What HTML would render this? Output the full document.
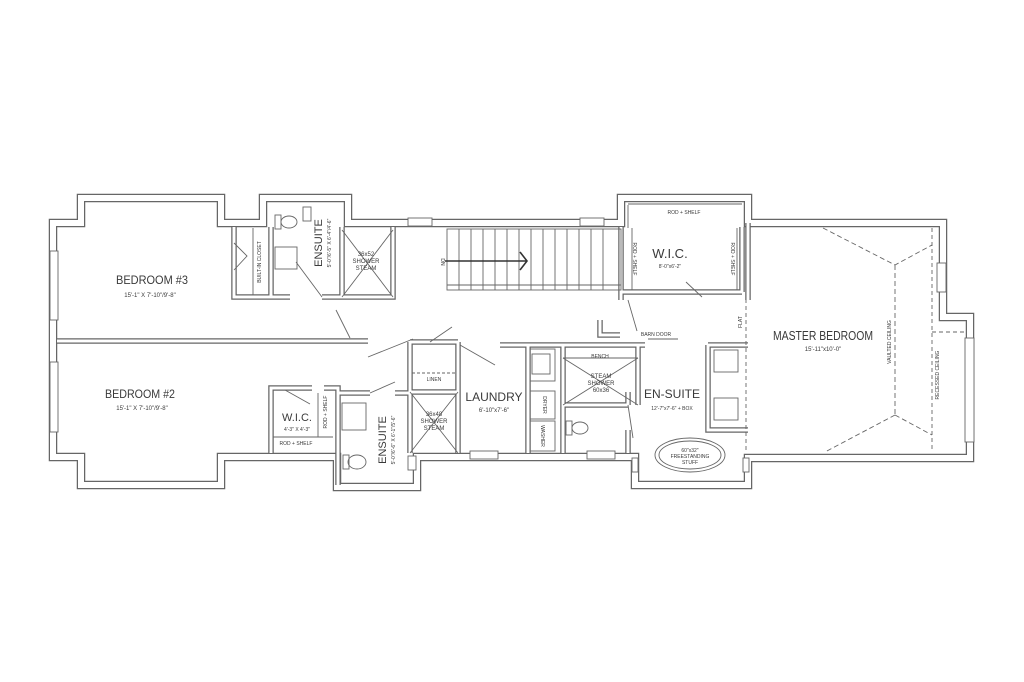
<!DOCTYPE html>
<html><head><meta charset="utf-8"><style>
html,body{margin:0;padding:0;background:#fff;}
svg{display:block}
text{font-family:"Liberation Sans Narrow","Liberation Sans",sans-serif;fill:#3a3a3a}
</style></head><body>
<svg width="1024" height="682" viewBox="0 0 1024 682" xmlns="http://www.w3.org/2000/svg">
<g fill="none" stroke-linejoin="miter">
<g id="ext">
<polygon points="53,223 81,223 81,198 221,198 221,223 263,223 263,198 348,198 348,223 621,223 621,198 748,198 748,223 943,223 943,317 970,317 970,458 748,458 748,485 635,485 635,457 417,457 417,487 337,487 337,457 221,457 221,485 81,485 81,457 53,457" stroke="#666" stroke-width="8.5"/>
<polygon points="53,223 81,223 81,198 221,198 221,223 263,223 263,198 348,198 348,223 621,223 621,198 748,198 748,223 943,223 943,317 970,317 970,458 748,458 748,485 635,485 635,457 417,457 417,487 337,487 337,457 221,457 221,485 81,485 81,457 53,457" stroke="#fff" stroke-width="6"/>
</g>
<g stroke="#666" stroke-width="5.5">
<path d="M57,341 H368"/>
<path d="M234,227 V297 H290 M322,297 H393 V227 M271,227 V297 M342,227 V297"/>
<path d="M621,227 V300 M621,292 H742 M742,227 V292"/>
<path d="M410,342 V453 M458,342 V453 M410,392 H458 M410,342 H458"/>
<path d="M271,453 V388 H312 M324,388 H338 V485 M338,393 H370 M395,393 H410"/>
<path d="M500,345 H645 M528,345 V453 M563,345 V453 M638,345 V405 M563,405 H628 M628,405 V392 M628,430 V453"/>
<path d="M708,345 V430 H748 M708,345 H748 M748,223 V300"/>
<path d="M600,320 V335 H620"/>
</g>
<g stroke="#fff" stroke-width="3">
<path d="M57,341 H368"/>
<path d="M234,227 V297 H290 M322,297 H393 V227 M271,227 V297 M342,227 V297"/>
<path d="M621,227 V300 M621,292 H742 M742,227 V292"/>
<path d="M410,342 V453 M458,342 V453 M410,392 H458 M410,342 H458"/>
<path d="M271,453 V388 H312 M324,388 H338 V485 M338,393 H370 M395,393 H410"/>
<path d="M500,345 H645 M528,345 V453 M563,345 V453 M638,345 V405 M563,405 H628 M628,405 V392 M628,430 V453"/>
<path d="M708,345 V430 H748 M708,345 H748 M748,223 V300"/>
<path d="M600,320 V335 H620"/>
</g>
<g stroke="#666" stroke-width="0.9">
<rect x="447" y="229" width="174" height="61"/>
<path d="M447,285 H621 M459,229V290 M471,229V290 M483,229V290 M495,229V290 M507,229V290 M519,229V290 M531,229V290 M543,229V290 M555,229V290 M567,229V290 M579,229V290 M591,229V290 M603,229V290"/>
<path d="M445,261 H527 M520,252 L527,261 L520,270" stroke-width="1.6" stroke="#333"/>
<path d="M342,230 L393,297 M393,230 L342,297"/>
<path d="M410,392 L458,453 M458,392 L410,453"/>
<path d="M563,358 L638,405 M638,358 L563,405 M563,358 H638"/>
<path d="M412,373 H456" stroke-dasharray="3,2"/>
<path d="M253,228 V295 M628,204 H742 M632,228 V290 M737,228 V290 M628,205 V228 M273,437 H333 M318,393 V437" />
<rect x="275" y="247" width="22" height="22"/><rect x="342" y="403" width="24" height="27"/>
<rect x="530" y="349" width="25" height="32"/><rect x="532" y="354" width="18" height="20"/>
<rect x="530" y="391" width="25" height="28"/><rect x="530" y="421" width="25" height="30"/>
<rect x="714" y="350" width="24" height="22"/><rect x="714" y="398" width="24" height="22"/>
<ellipse cx="289" cy="222" rx="8" ry="6"/><rect x="275" y="215" width="6" height="14"/>
<ellipse cx="357" cy="462" rx="9" ry="7"/><rect x="343" y="455" width="6" height="14"/>
<ellipse cx="580" cy="428" rx="8" ry="6"/><rect x="566" y="421" width="6" height="14"/>
<ellipse cx="690" cy="455" rx="35" ry="17"/><ellipse cx="690" cy="455" rx="31" ry="14"/>
<path d="M234,243 L247,256 L234,270 M296,262 L322,297 M336,310 L350,338 M368,357 L413,339 M430,342 L452,327 M460,345 L495,365 M628,300 L637,331 M686,282 L702,297 M628,405 L633,438 M648,339 H678 M285,390 L310,404 M370,393 L395,382"/>
<path d="M823,228 L895,265 L932,245 M895,265 V415 M895,415 L825,452 M895,415 L932,435" stroke-dasharray="5,3"/>
<path d="M932,228 V452 M932,332 H966 M746,292 V453" stroke-dasharray="4,3"/>
<rect x="50" y="251" width="8" height="69" fill="#fff"/><rect x="50" y="362" width="8" height="70" fill="#fff"/>
<rect x="408" y="218" width="24" height="8" fill="#fff"/><rect x="580" y="218" width="24" height="8" fill="#fff"/>
<rect x="303" y="207" width="8" height="14" fill="#fff"/><rect x="408" y="456" width="8" height="14" fill="#fff"/>
<rect x="937" y="263" width="9" height="29" fill="#fff"/><rect x="965" y="338" width="9" height="104" fill="#fff"/>
<rect x="470" y="451" width="28" height="8" fill="#fff"/><rect x="587" y="451" width="28" height="8" fill="#fff"/>
<rect x="632" y="458" width="6" height="14" fill="#fff"/><rect x="743" y="458" width="6" height="14" fill="#fff"/>
</g>
</g>
<g text-anchor="middle">
<text x="152" y="284" font-size="12" textLength="72" lengthAdjust="spacingAndGlyphs">BEDROOM #3</text>
<text x="150" y="297" font-size="6">15'-1" X 7'-10"/9'-8"</text>
<text x="140" y="398" font-size="12" textLength="70" lengthAdjust="spacingAndGlyphs">BEDROOM #2</text>
<text x="142" y="410" font-size="6">15'-1" X 7'-10"/9'-8"</text>
<text transform="translate(322,243) rotate(-90)" font-size="11">ENSUITE</text>
<text transform="translate(331,243) rotate(-90)" font-size="5">5'-0"/6'-5" X 6'-4"/4'-6"</text>
<text x="366" y="256" font-size="6">36x52</text><text x="366" y="263" font-size="6">SHOWER</text><text x="366" y="270" font-size="6">STEAM</text>
<text transform="translate(261,262) rotate(-90)" font-size="5">BUILT-IN CLOSET</text>
<text x="297" y="421" font-size="11">W.I.C.</text>
<text x="297" y="431" font-size="5">4'-3" X 4'-3"</text>
<text x="296" y="445" font-size="5">ROD + SHELF</text>
<text transform="translate(327,412) rotate(-90)" font-size="5">ROD + SHELF</text>
<text transform="translate(386,440) rotate(-90)" font-size="11">ENSUITE</text>
<text transform="translate(395,440) rotate(-90)" font-size="5">5'-0"/6'-6" X 6'-1"/5'-6"</text>
<text x="434" y="416" font-size="6">36x48</text><text x="434" y="423" font-size="6">SHOWER</text><text x="434" y="430" font-size="6">STEAM</text>
<text x="434" y="381" font-size="5">LINEN</text>
<text x="494" y="401" font-size="12">LAUNDRY</text>
<text x="494" y="412" font-size="6">6'-10"x7'-6"</text>
<text transform="translate(543,405) rotate(90)" font-size="5">DRYER</text>
<text transform="translate(541,436) rotate(90)" font-size="5">WASHER</text>
<text x="600" y="358" font-size="5">BENCH</text>
<text x="601" y="378" font-size="6">STEAM</text><text x="601" y="385" font-size="6">SHOWER</text><text x="601" y="392" font-size="6">60x36</text>
<text x="672" y="398" font-size="12">EN-SUITE</text>
<text x="672" y="410" font-size="5">12'-7"x7'-6" + BOX</text>
<text x="690" y="452" font-size="5">60"x32"</text><text x="690" y="458" font-size="5">FREESTANDING</text><text x="690" y="464" font-size="5">STUFF</text>
<text x="670" y="258" font-size="13">W.I.C.</text>
<text x="670" y="268" font-size="5">8'-0"x6'-2"</text>
<text x="684" y="214" font-size="5">ROD + SHELF</text>
<text transform="translate(633,259) rotate(90)" font-size="5">ROD + SHELF</text>
<text transform="translate(731,259) rotate(90)" font-size="5">ROD + SHELF</text>
<text x="656" y="336" font-size="5">BARN DOOR</text>
<text transform="translate(742,322) rotate(-90)" font-size="5">FLAT</text>
<text x="823" y="340" font-size="13" textLength="100" lengthAdjust="spacingAndGlyphs">MASTER BEDROOM</text>
<text x="823" y="351" font-size="6">15'-11"x10'-0"</text>
<text transform="translate(891,342) rotate(-90)" font-size="5">VAULTED CEILING</text>
<text transform="translate(939,375) rotate(-90)" font-size="5">RECESSED CEILING</text>
<text transform="translate(441,262) rotate(90)" font-size="5">DN</text>
</g>
</svg>
</body></html>
